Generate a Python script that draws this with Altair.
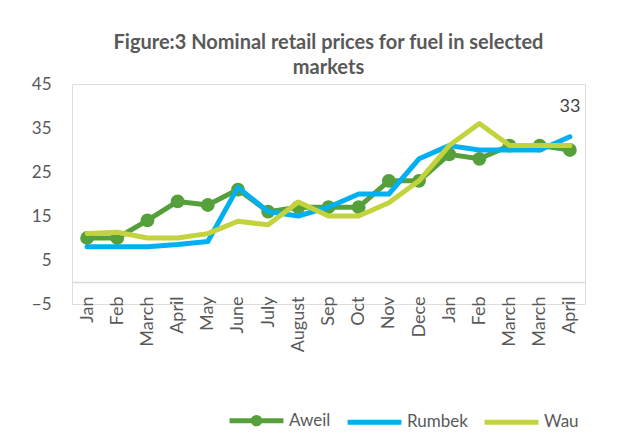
import altair as alt
import pandas as pd

months = ["Jan", "Feb", "March", "April", "May", "June", "July", "August", "Sep",
          "Oct", "Nov", "Dece", "Jan", "Feb", "March", "March", "April"]
aweil = [10, 10, 14, 18.3, 17.5, 21, 16, 17, 17, 17, 23, 23, 29, 28, 31, 31, 30]
rumbek = [8, 8, 8, 8.5, 9.2, 21.5, 16, 15, 17, 20, 20, 28, 31, 30, 30, 30, 33]
wau = [11, 11.3, 10, 10, 11, 13.8, 13, 18.2, 15, 15, 18, 23, 31, 36, 31, 31, 31]
series = ["Aweil", "Rumbek", "Wau"]
colors = ["#55A03A", "#00B0F0", "#C3D33D"]

rows = []
for name, vals in zip(series, [aweil, rumbek, wau]):
    for i, (m, v) in enumerate(zip(months, vals)):
        rows.append({"idx": i, "month": m, "series": name, "value": v})
df = pd.DataFrame(rows)

label_expr = "[" + ",".join(f"'{m}'" for m in months) + "][datum.value]"

x = alt.X("idx:O", title=None,
          axis=alt.Axis(labelExpr=label_expr, labelAngle=-90, labelAlign="right",
                        labelBaseline="middle", ticks=False, grid=False,
                        domain=True, domainColor="#D9D9D9", domainWidth=1.5,
                        offset=-22, labelPadding=14, labelFontSize=18,
                        labelColor="#595959", labelFont="Lato"),
          scale=alt.Scale(paddingInner=0, paddingOuter=0))
yscale = alt.Scale(domain=[-5, 45], nice=False, zero=False)
y = alt.Y("value:Q", title=None, scale=yscale,
          axis=alt.Axis(values=[-5, 5, 15, 25, 35, 45], ticks=False, domain=False,
                        grid=False, labelPadding=21, labelFontSize=17,
                        labelColor="#595959", labelFont="Lato"))

aweil_path = "M-1,0L1,0M-0.12,0A0.12,0.12 0 1,0 0.12,0A0.12,0.12 0 1,0 -0.12,0"
line_path = "M-1,0L1,0"
legend = alt.Legend(
    title=None, orient="none", direction="horizontal",
    legendX=155, legendY=307,
    symbolStrokeWidth=5, symbolSize=2900, symbolOpacity=1,
    labelFontSize=17, labelColor="#595959", labelFont="Lato",
    columnPadding=6, labelOffset=3,
)
cscale = alt.Scale(domain=series, range=colors)
color_plain = alt.Color("series:N", scale=cscale)

base = alt.Chart(df)

# legend-only layer (no rows drawn)
legend_layer = base.transform_filter("false").mark_point(filled=False, strokeWidth=5, opacity=1).encode(
    x=x, y=y,
    color=alt.Color("series:N", scale=cscale, legend=legend),
    shape=alt.Shape("series:N", scale=alt.Scale(domain=series, range=[aweil_path, line_path, line_path]),
                    legend=legend),
)

line_a = base.transform_filter("datum.series === 'Aweil'").mark_line(
    strokeWidth=5, strokeCap="round", strokeJoin="round").encode(x=x, y=y, color=color_plain)
pts_a = base.transform_filter("datum.series === 'Aweil'").mark_circle(
    size=190, opacity=1).encode(x=x, y=y, color=color_plain)
line_r = base.transform_filter("datum.series === 'Rumbek'").mark_line(
    strokeWidth=5, strokeCap="round", strokeJoin="round").encode(x=x, y=y, color=color_plain)
line_w = base.transform_filter("datum.series === 'Wau'").mark_line(
    strokeWidth=5, strokeCap="round", strokeJoin="round").encode(x=x, y=y, color=color_plain)

lbl = base.transform_filter("datum.series === 'Rumbek' && datum.idx === 16").mark_text(
    dy=-30, fontSize=18, color="#404040", font="Lato").encode(
    x=x, y=y, text=alt.Text("value:Q", format=".0f"))

chart = alt.layer(legend_layer, line_a, pts_a, line_r, line_w, lbl).properties(
    width=513, height=220,
    padding={"left": 23, "top": 25, "right": 5, "bottom": 60},
    title=alt.Title(["Figure:3 Nominal retail prices for fuel in selected", "markets"],
                    fontSize=20, font="Lato", fontWeight="bold", color="#595959",
                    anchor="middle", lineHeight=25, offset=-3),
).configure_view(stroke="transparent", strokeWidth=0).configure(background="white")

chart.save("out.html", embed_options={"renderer": "svg", "actions": False})
